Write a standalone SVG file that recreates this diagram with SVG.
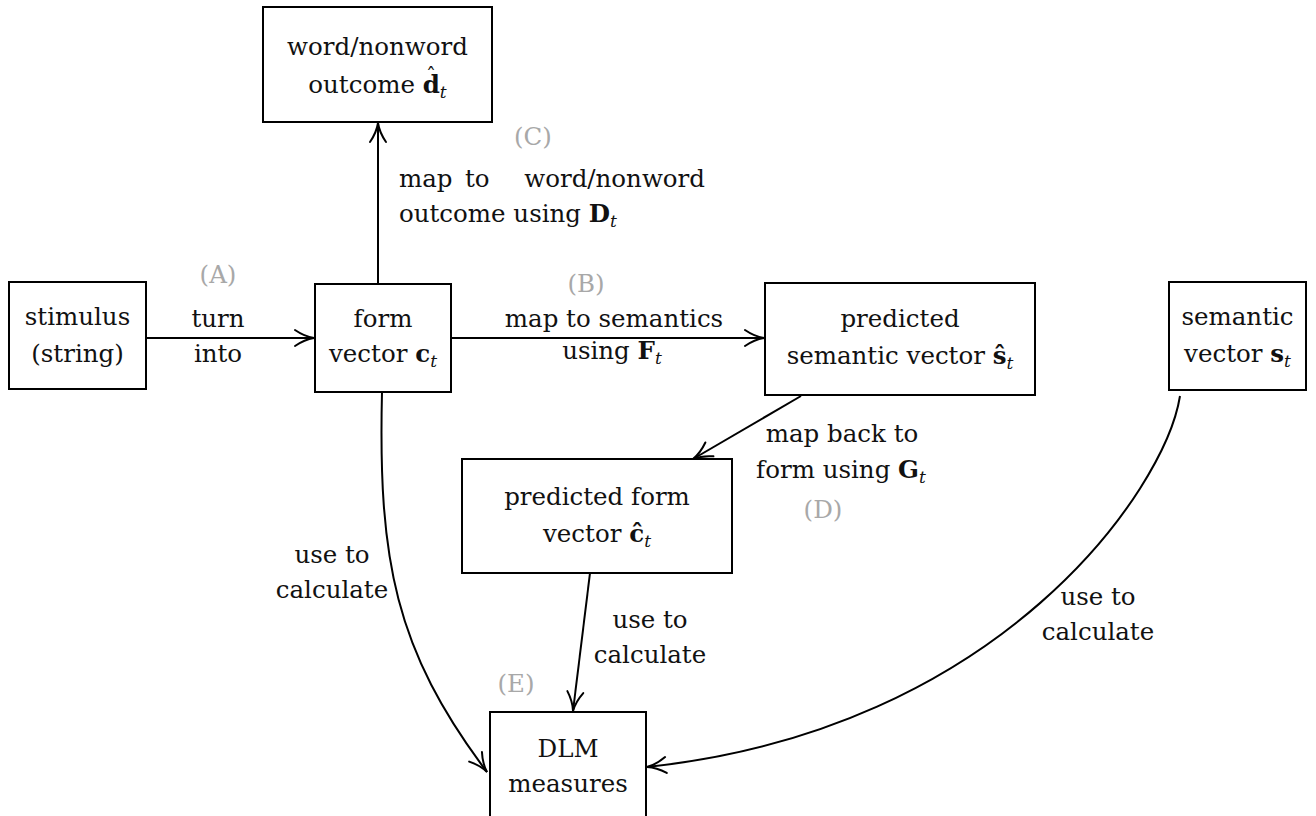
<svg xmlns="http://www.w3.org/2000/svg" width="1316" height="816" viewBox="0 0 1316 816">
<style>
.box{fill:#fff;stroke:#000;stroke-width:2}
.edge{fill:none;stroke:#000;stroke-width:2}
text{font-family:'DejaVu Serif',serif;font-size:24.5px;fill:#111}
.c{text-anchor:middle}
.g{fill:#a8a8a8}
.b{font-weight:bold}
.s{font-style:italic;font-size:17px}
.h{font-size:20px}
</style>
<defs>
<marker id="arr" markerUnits="userSpaceOnUse" markerWidth="30" markerHeight="30" refX="0" refY="0" orient="auto" overflow="visible">
<path d="M -19,-8 C -12,-3.2 -4.5,-0.7 0,0 C -4.5,0.7 -12,3.2 -19,8" fill="none" stroke="#000" stroke-width="2" stroke-linecap="round"/>
</marker>
</defs>
<rect width="1316" height="816" fill="#fff"/>
<g id="connectors">
<line class="edge" x1="146" y1="338" x2="314" y2="338" marker-end="url(#arr)"/>
<line class="edge" x1="451" y1="338" x2="764" y2="338" marker-end="url(#arr)"/>
<line class="edge" x1="378" y1="284" x2="378" y2="123" marker-end="url(#arr)"/>
<line class="edge" x1="801" y1="396" x2="693" y2="459" marker-end="url(#arr)"/>
<line class="edge" x1="590" y1="573" x2="573" y2="711" marker-end="url(#arr)"/>
<path class="edge" d="M382,392 C378,560 395,650 487,772" marker-end="url(#arr)"/>
<path class="edge" d="M1180,396 C1165,490 1000,730 647,767" marker-end="url(#arr)"/>
</g>
<g id="edge-labels">
<text class="c g" x="218" y="283">(A)</text>
<text class="c" x="218" y="327">turn</text>
<text class="c" x="218" y="362">into</text>
<text class="c g" x="586" y="292">(B)</text>
<text class="c" x="614" y="327">map to semantics</text>
<text class="c" x="612" y="359">using <tspan class="b">F</tspan><tspan class="s" dy="5">t</tspan></text>
<text class="c g" x="533" y="145">(C)</text>
<text x="399" y="187">map</text>
<text x="465" y="187">to</text>
<text x="705" y="187" text-anchor="end">word/nonword</text>
<text x="399" y="222">outcome using <tspan class="b">D</tspan><tspan class="s" dy="5">t</tspan></text>
<text class="c" x="842" y="442">map back to</text>
<text class="c" x="841" y="478">form using <tspan class="b">G</tspan><tspan class="s" dy="5">t</tspan></text>
<text class="c g" x="823" y="518">(D)</text>
<text class="c" x="332" y="563">use to</text>
<text class="c" x="332" y="598">calculate</text>
<text class="c" x="650" y="628">use to</text>
<text class="c" x="650" y="663">calculate</text>
<text class="c" x="1098" y="605">use to</text>
<text class="c" x="1098" y="640">calculate</text>
<text class="c g" x="516" y="692">(E)</text>
</g>
<g id="word-outcome">
<rect class="box" x="263" y="7" width="229" height="115"/>
<text class="c" x="377.5" y="55">word/nonword</text>
<text class="c" x="377.5" y="93">outcome <tspan class="b">d</tspan><tspan class="h" dx="-13.8" dy="-10">ˆ</tspan><tspan class="s" dx="3.8" dy="15">t</tspan></text>
</g>
<g id="stimulus">
<rect class="box" x="9" y="282" width="137" height="107"/>
<text class="c" x="77.5" y="325">stimulus</text>
<text class="c" x="77.5" y="362">(string)</text>
</g>
<g id="form-vector">
<rect class="box" x="315" y="284" width="136" height="108"/>
<text class="c" x="383" y="327">form</text>
<text class="c" x="383" y="362">vector <tspan class="b">c</tspan><tspan class="s" dy="5">t</tspan></text>
</g>
<g id="predicted-semantic">
<rect class="box" x="765" y="283" width="270" height="112"/>
<text class="c" x="900" y="327">predicted</text>
<text class="c" x="900" y="364">semantic vector <tspan class="b">ŝ</tspan><tspan class="s" dy="5">t</tspan></text>
</g>
<g id="semantic-vector">
<rect class="box" x="1169" y="282" width="137" height="108"/>
<text class="c" x="1237.5" y="325">semantic</text>
<text class="c" x="1237.5" y="362">vector <tspan class="b">s</tspan><tspan class="s" dy="5">t</tspan></text>
</g>
<g id="predicted-form">
<rect class="box" x="462" y="459" width="270" height="114"/>
<text class="c" x="597" y="505">predicted form</text>
<text class="c" x="597" y="542">vector <tspan class="b">ĉ</tspan><tspan class="s" dy="5">t</tspan></text>
</g>
<g id="dlm-measures">
<rect class="box" x="490" y="712" width="156" height="120"/>
<text class="c" x="568" y="757">DLM</text>
<text class="c" x="568" y="792">measures</text>
</g>
</svg>
